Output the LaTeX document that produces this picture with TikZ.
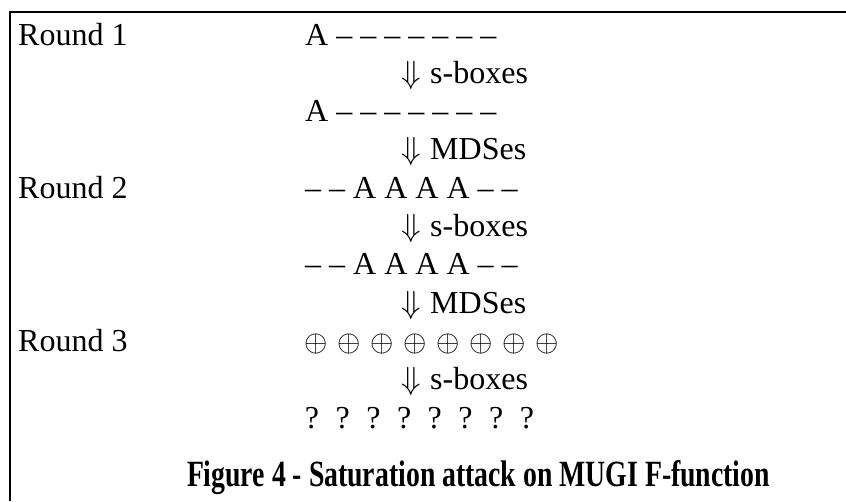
\RequirePackage{fix-cm}
\documentclass[tikz,border=0pt]{standalone}
\usepackage{fontspec}
\setmainfont{Liberation Serif}

\begin{document}
\begin{tikzpicture}[
    x=1pt, y=-1pt,
    txt/.style={anchor=base west,inner sep=0pt,font=\fontsize{32}{38}\selectfont},
    arrowsym/.style={anchor=base west,inner sep=0pt,font=\fontsize{32}{38}\selectfont},
    xorsym/.style={anchor=base,inner sep=0pt,font=\fontsize{30}{36}\selectfont},
    qmark/.style={anchor=base,inner sep=0pt,font=\fontsize{32}{38}\selectfont},
    frame/.style={black,line width=2pt},
    caption/.style={anchor=base,inner sep=0pt,font=\fontsize{37}{44}\selectfont\bfseries}
]
    \useasboundingbox (0,0) rectangle (846,501);

    % Frame, open at the right and at the bottom
    \draw[frame] (10,501) -- (10,11.5) -- (846,11.5);

    \pgfmathsetmacro{\xrow}{305}
    \pgfmathsetmacro{\xarr}{401}
    \pgfmathsetmacro{\xlab}{430}
    \pgfmathsetmacro{\ytop}{45}
    \pgfmathsetmacro{\dy}{38.3}

    % Round labels
    \node[txt] (round1) at (18, \ytop) {Round 1};
    \pgfmathsetmacro{\y}{\ytop + 4*\dy}
    \node[txt] (round2) at (18, \y) {Round 2};
    \pgfmathsetmacro{\y}{\ytop + 8*\dy}
    \node[txt] (round3) at (18, \y) {Round 3};

    % Byte states
    \node[txt] (state1) at (\xrow, \ytop) {A – – – – – – –};
    \pgfmathsetmacro{\y}{\ytop + 2*\dy}
    \node[txt] (state2) at (\xrow, \y) {A – – – – – – –};
    \pgfmathsetmacro{\y}{\ytop + 4*\dy}
    \node[txt] (state3) at (\xrow, \y) {– – A A A A – –};
    \pgfmathsetmacro{\y}{\ytop + 6*\dy}
    \node[txt] (state4) at (\xrow, \y) {– – A A A A – –};

    \pgfmathsetmacro{\y}{\ytop + 8*\dy}
    \foreach \i in {0,...,7} {
        \node[xorsym] (xor\i) at ({316 + 33*\i}, \y) {$\oplus$};
    }

    \pgfmathsetmacro{\y}{\ytop + 10*\dy}
    \foreach \i in {0,...,7} {
        \node[qmark] (unk\i) at ({312 + 30.7*\i}, \y) {?};
    }

    % Steps between the states
    \foreach \k/\lab [count=\i] in {1/s-boxes, 3/MDSes, 5/s-boxes, 7/MDSes, 9/s-boxes} {
        \pgfmathsetmacro{\y}{\ytop + \k*\dy}
        \node[arrowsym] (arr\i) at (\xarr, \y) {$\Downarrow$};
        \node[txt] (step\i) at (\xlab, \y) {\lab};
    }

    \node[caption] (cap) at (478.5, 486) {\scalebox{0.75}[1]{Figure 4 - Saturation attack on MUGI F-function}};
\end{tikzpicture}
\end{document}
